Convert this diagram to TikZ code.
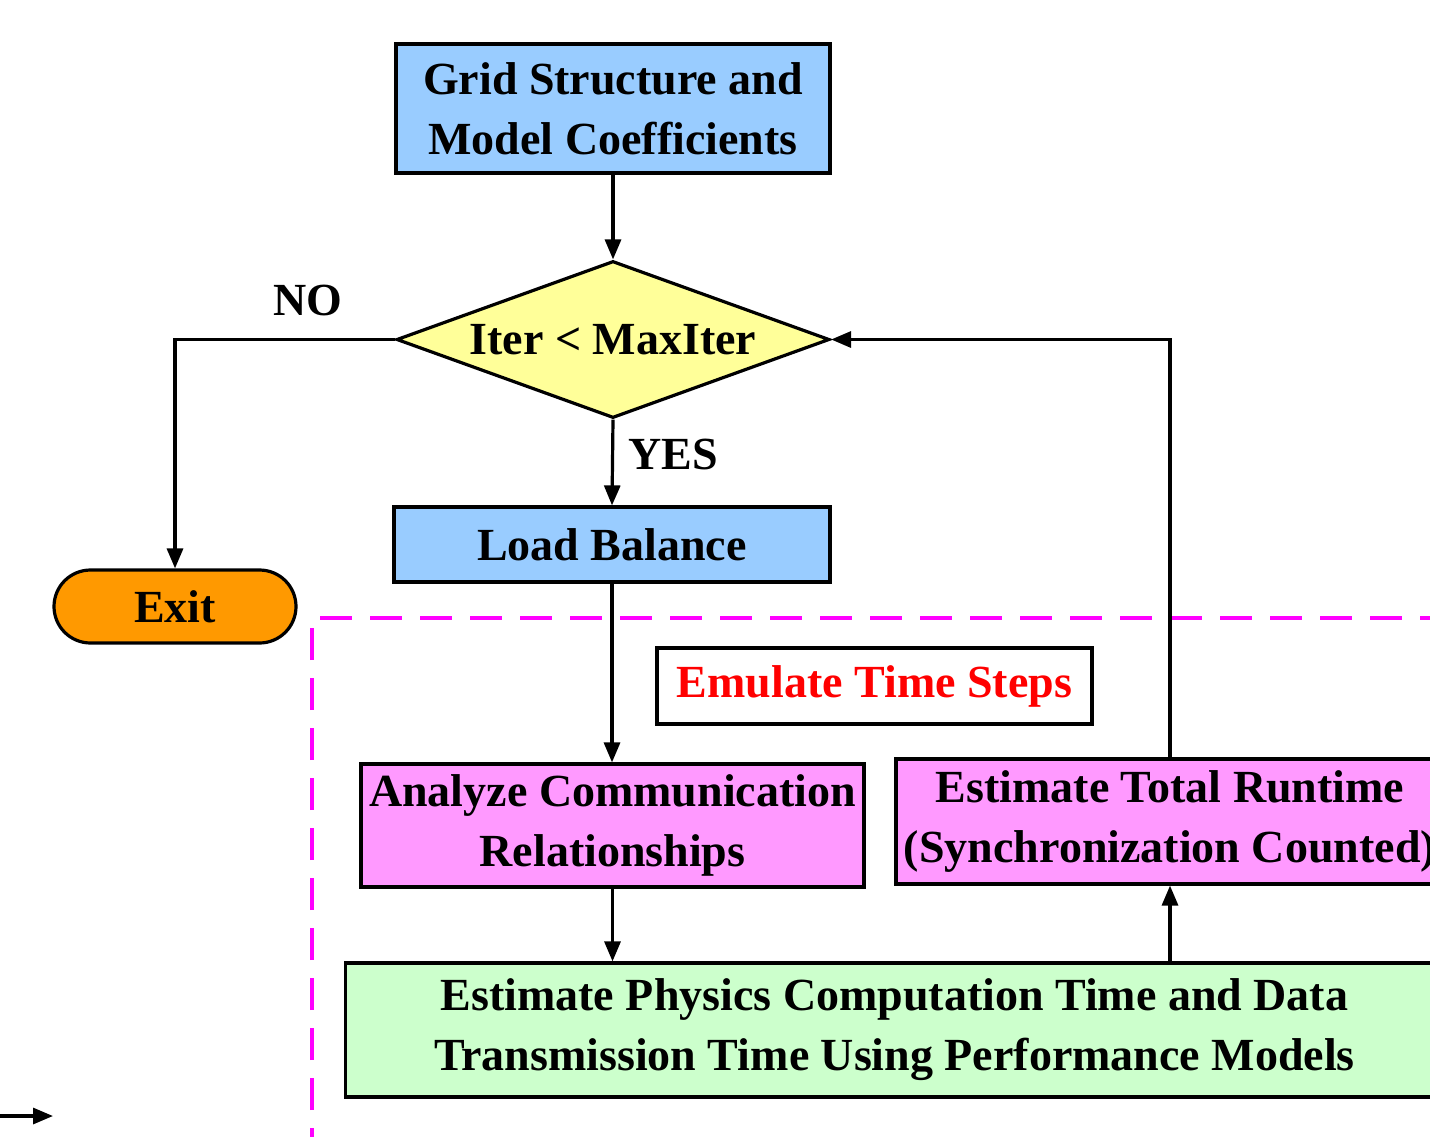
\documentclass[tikz,border=0pt]{standalone}
\usepackage{fontspec}
\setmainfont{Liberation Serif}
\usetikzlibrary{shapes.geometric,shapes.misc,arrows.meta}
\definecolor{boxblue}{HTML}{99CCFF}
\definecolor{boxyellow}{HTML}{FFFF99}
\definecolor{boxorange}{HTML}{FF9900}
\definecolor{boxpink}{HTML}{FF99FF}
\definecolor{boxgreen}{HTML}{CCFFCC}
\definecolor{dashmag}{HTML}{FF00FF}
\tikzset{
  every node/.style={font=\fontsize{23}{30}\selectfont\bfseries, align=center, inner sep=0pt},
  box/.style={draw=black, line width=1.6pt, rectangle},
  flow/.style={line width=1.6pt, -{Triangle[length=10pt,width=8pt]}},
}
\begin{document}
\begin{tikzpicture}[x=0.5pt,y=-0.5pt]
\useasboundingbox (0,0) rectangle (1430,1136);
\clip (0,0) rectangle (1430,1136);
\fill[white] (0,0) rectangle (1430,1136);
% dashed region
\draw[dashmag, line width=1.9pt, dash pattern=on 16pt off 9pt] (312,1160) -- (312,618) -- (1460,618);
% nodes
\node[box, fill=boxblue, minimum width=217pt, minimum height=64.5pt] (grid) at (613,108.5) {Grid Structure and\\Model Coefficients};
\node[draw=black, line width=1.6pt, fill=boxyellow, diamond, aspect=2.76, minimum width=216.5pt, minimum height=78.5pt] (dec) at (613,339.5) {Iter < MaxIter};
\node[box, fill=boxblue, minimum width=218pt, minimum height=37.5pt] (load) at (612,544.5) {Load Balance};
\node[draw=black, line width=1.6pt, fill=boxorange, rounded rectangle, minimum width=121pt, minimum height=36.5pt] (exit) at (175,606.5) {Exit};
\node[box, fill=white, minimum width=217.5pt, minimum height=38pt, text=red] (emu) at (874.5,686) {Emulate Time Steps};
\node[box, fill=boxpink, minimum width=251.5pt, minimum height=61.5pt] (ana) at (612.5,825.5) {Analyze Communication\\Relationships};
\node[box, fill=boxpink, minimum width=274pt, minimum height=62.5pt] (run) at (1170,821.5) {Estimate Total Runtime\\(Synchronization Counted)};
\node[box, fill=boxgreen, minimum width=549pt, minimum height=67pt] (est) at (894.5,1030) {Estimate Physics Computation Time and Data\\Transmission Time Using Performance Models};
\node (no) at (308,300) {NO};
\node (yes) at (673,454) {YES};
% connectors
\draw[flow] (grid.south) -- (dec.north);
\draw[flow] (dec.west) -- (exit.north |- dec.west) -- (exit.north);
\draw[flow] (dec.south) -- (load.north);
\draw[flow] (load.south) -- (ana.north -| load.south);
\draw[flow] (ana.south) -- (ana.south |- est.north);
\draw[flow] (est.north -| run.south) -- (run.south);
\draw[flow] (run.north) -- (run.north |- dec.east) -- (dec.east);
\coordinate (s1) at (0,1116);
\coordinate (s2) at (53,1116);
\draw[flow] (s1) -- (s2);
\end{tikzpicture}
\end{document}
